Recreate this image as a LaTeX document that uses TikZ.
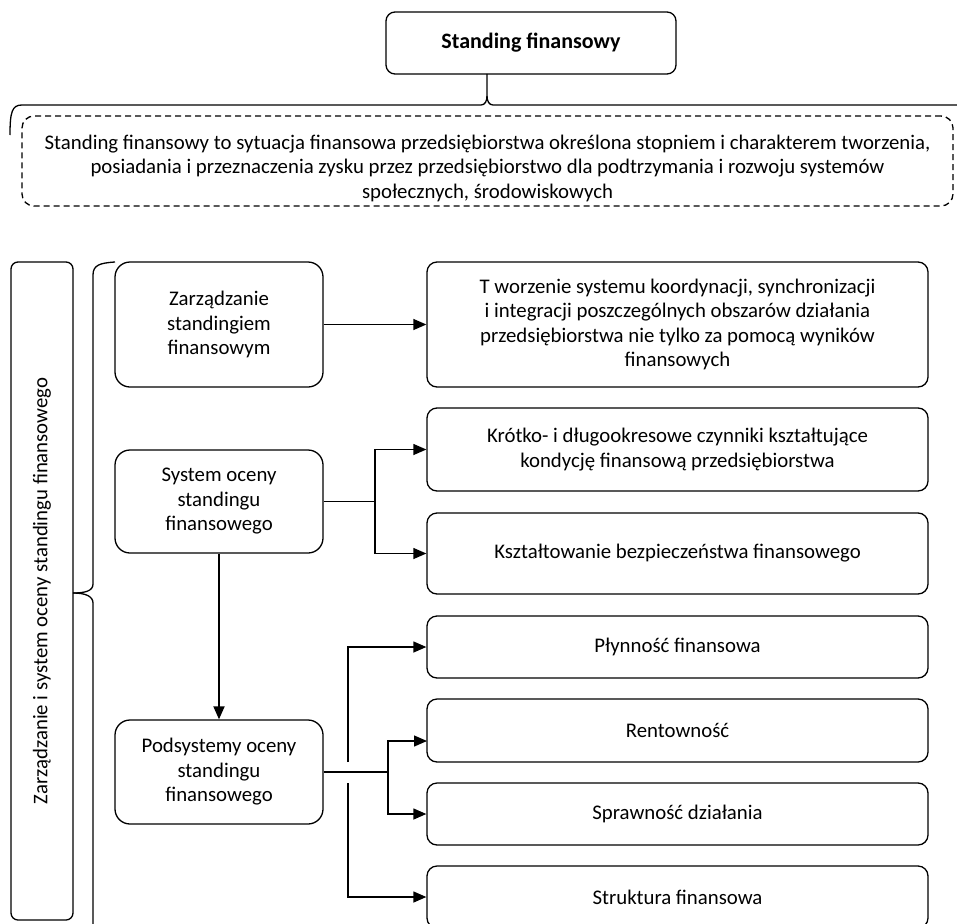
\documentclass[tikz,border=0pt]{standalone}
\usepackage{fontspec}
\setmainfont{Carlito}
\usetikzlibrary{arrows.meta}
\begin{document}
\begin{tikzpicture}[x=1pt,y=-1pt,
  line width=1.3pt,
  txt/.style={font=\fontsize{20.8}{24.5}\selectfont, align=center},
  lbox/.style={draw, rounded corners=15pt, minimum width=208pt, inner sep=0pt, txt},
  rbox/.style={draw, rounded corners=10pt, minimum width=501pt, inner sep=0pt, txt},
  arr/.style={-{Triangle[length=13pt,width=11pt]}},
]
\useasboundingbox (0,0) rectangle (957,923);
% title
\node[draw, rounded corners=9pt, minimum width=290pt, minimum height=62pt, inner sep=0pt,
      font=\fontsize{22}{26}\selectfont\bfseries] (title) at (531,43) {Standing finansowy};
% top brace
\coordinate (tip) at (487,74);
\draw (10,135) .. controls (10,112) and (12,105) .. (22,105) -- (481,105)
      .. controls (485,105) and (487,101) .. (487,96) -- (tip);
\draw (487,96) .. controls (487,101) and (489,105) .. (493,105) -- (960,105);
% dashed definition box
\node[draw, dashed, dash pattern=on 6pt off 4pt, rounded corners=12pt, minimum width=931pt, minimum height=90pt, inner sep=0pt] (def) at (487.5,161) {};
\node[txt] (deftxt) at (487.5,168)
 {Standing finansowy to sytuacja finansowa przedsiębiorstwa określona stopniem i charakterem tworzenia,\\
  posiadania i przeznaczenia zysku przez przedsiębiorstwo dla podtrzymania i rozwoju systemów\\
  społecznych, środowiskowych};
% left vertical box
\node[draw, rounded corners=7pt, minimum width=62pt, minimum height=658pt, inner sep=0pt] (side) at (42,591) {};
\node[rotate=90, txt] (sidetxt) at (side.center) {Zarządzanie i system oceny standingu finansowego};
% vertical brace
\draw (115,262) .. controls (100,263) and (93,265) .. (93,275) -- (93,584)
      .. controls (93,591) and (85,593) .. (73,593);
\draw (73,593) .. controls (85,593) and (93,596) .. (93,603) -- (93,930);
% left boxes
\node[lbox, minimum height=125pt] (zarz) at (219,324.5) {Zarządzanie\\standingiem\\finansowym};
\node[lbox, minimum height=103pt] (sys) at (219,501.5) {System oceny\\standingu\\finansowego};
\node[lbox, minimum height=104pt] (pod) at (219,772) {Podsystemy oceny\\standingu\\finansowego};
% right boxes
\node[rbox, minimum height=125pt] (tw) at (677.5,324.5) {T worzenie systemu koordynacji, synchronizacji\\i integracji poszczególnych obszarów działania\\przedsiębiorstwa nie tylko za pomocą wyników\\finansowych};
\node[rbox, minimum height=83pt] (kr) at (677.5,449.5) {Krótko- i długookresowe czynniki kształtujące\\kondycję finansową przedsiębiorstwa};
\node[rbox, minimum height=81pt] (ks) at (677.5,553.5) {Kształtowanie bezpieczeństwa finansowego};
\node[rbox, minimum height=62pt] (pl) at (677.5,647) {Płynność finansowa};
\node[rbox, minimum height=63pt] (re) at (677.5,730.5) {Rentowność};
\node[rbox, minimum height=62pt] (sp) at (677.5,814) {Sprawność działania};
\node[rbox, minimum height=62pt] (st) at (677.5,897) {Struktura finansowa};
% connectors
\draw[arr] (zarz.east) -- (zarz.east -| tw.west);
\coordinate (b1) at (375,501.5);
\draw (sys.east) -- (b1);
\draw[arr] (b1) |- (kr.west);
\draw[arr] (b1) |- (ks.west);
\draw[arr, line width=1.8pt] (sys.south) -- (pod.north);
\coordinate (b2) at (388,772);
\coordinate (r2) at (427,741);
\draw (pod.east) -- (b2);
\draw[arr] (b2) |- (r2);
\draw[arr] (b2) |- (sp.west);
\coordinate (g1) at (348,762);
\coordinate (g2) at (348,783);
\draw[arr] (g1) |- (pl.west);
\draw[arr] (g2) |- (st.west);
\end{tikzpicture}
\end{document}
